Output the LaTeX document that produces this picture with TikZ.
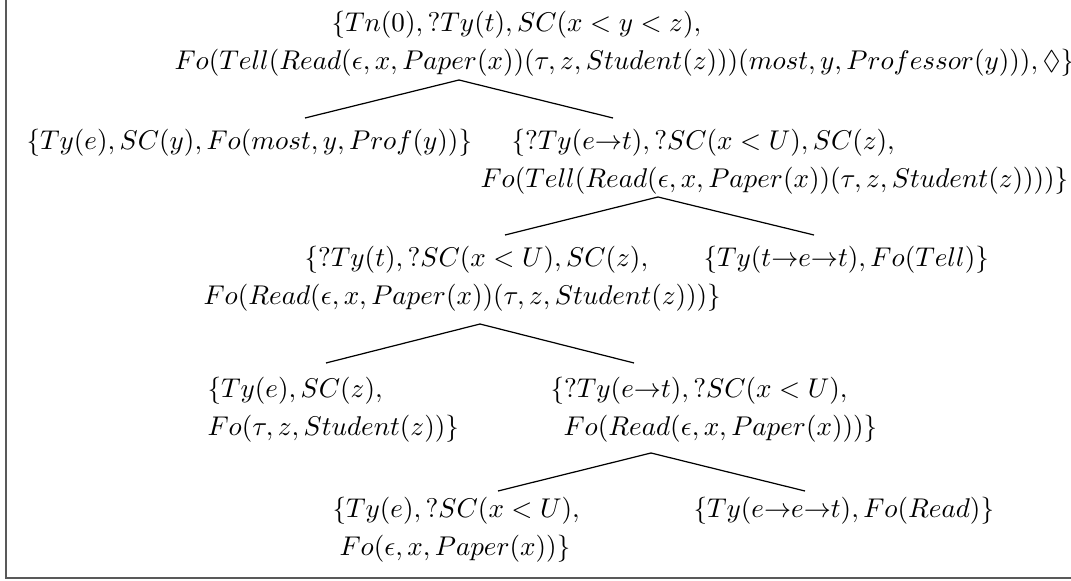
\documentclass[tikz,border=0pt]{standalone}
\usepackage{amsmath, amssymb}
\usepackage{tikz}
\newlength{\pxu}\setlength{\pxu}{0.369pt}

\begin{document}
\begin{tikzpicture}[x=\pxu, y=-\pxu, font=\fontsize{10}{14}\selectfont,
    dt/.style={align=left, anchor=north west, inner sep=0pt},
    br/.style={line width=0.45pt}]
  \useasboundingbox (0,0) rectangle (1071,581);
  \draw[black!65, line width=1.6\pxu] (6,0) -- (6,578) -- (1071,578);

  \node[dt] (root) at (174,11) {\hspace*{157\pxu}$\{Tn(0), ?Ty(t), SC(x<y<z),$\\
    $Fo(Tell(Read(\epsilon, x, Paper(x))(\tau, z, Student(z)))(most, y, Professor(y))), \Diamond\}$};
  \node[dt] (ty) at (26,129) {$\{Ty(e), SC(y), Fo(most, y, Prof(y))\}$};
  \node[dt] (tell) at (480,129) {\hspace*{31\pxu}$\{?Ty(e{\to}t), ?SC(x<U), SC(z),$\\
    $Fo(Tell(Read(\epsilon, x, Paper(x))(\tau, z, Student(z))))\}$};
  \node[dt] (tt) at (203,246) {\hspace*{101\pxu}$\{?Ty(t), ?SC(x<U), SC(z),$\\
    $Fo(Read(\epsilon, x, Paper(x))(\tau, z, Student(z)))\}$};
  \node[dt] (tf) at (703,246) {$\{Ty(t{\to}e{\to}t), Fo(Tell)\}$};
  \node[dt] (stu) at (207,377) {$\{Ty(e), SC(z),$\\
    $Fo(\tau, z, Student(z))\}$};
  \node[dt] (read) at (550,377) {$\{?Ty(e{\to}t), ?SC(x<U),$\\
    \hspace*{13\pxu}$Fo(Read(\epsilon, x, Paper(x)))\}$};
  \node[dt] (pap) at (332,497) {$\{Ty(e), ?SC(x<U),$\\
    \hspace*{7\pxu}$Fo(\epsilon, x, Paper(x))\}$};
  \node[dt] (rf) at (693,497) {$\{Ty(e{\to}e{\to}t), Fo(Read)\}$};

  \coordinate (r0) at (459,80);  \coordinate (r0l) at (305,118); \coordinate (r0r) at (613,118);
  \coordinate (r1) at (658,197); \coordinate (r1l) at (505,235); \coordinate (r1r) at (814,235);
  \coordinate (r2) at (480,324); \coordinate (r2l) at (326,363); \coordinate (r2r) at (634,363);
  \coordinate (r3) at (651,453); \coordinate (r3l) at (498,491); \coordinate (r3r) at (805,491);
  \draw[br] (r0l) -- (r0) -- (r0r);
  \draw[br] (r1l) -- (r1) -- (r1r);
  \draw[br] (r2l) -- (r2) -- (r2r);
  \draw[br] (r3l) -- (r3) -- (r3r);
\end{tikzpicture}
\end{document}
